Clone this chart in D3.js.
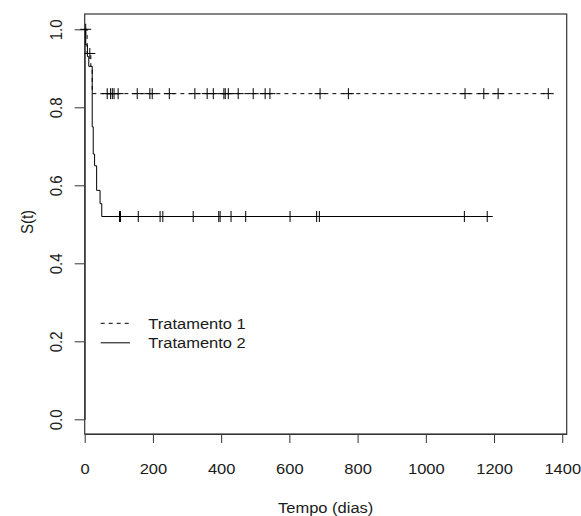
<!DOCTYPE html>
<html>
<head>
<meta charset="utf-8">
<script src="https://cdn.jsdelivr.net/npm/d3@7"></script>
<style>
  html, body { margin: 0; padding: 0; background: #fff; }
  svg text { font-family: "Liberation Sans", Arial, sans-serif; fill: #1a1a1a; }
</style>
</head>
<body>
<svg id="chart" width="581" height="516"></svg>
<script>
// ---- Data ----
// Tratamento 1 (dashed): step times and survival after each step
const trat1Times = [0, 7, 18, 22];
const trat1Surv  = [1, 0.938, 0.905, 0.835];
const trat1Censor = [3, 15, 66, 76, 81, 86, 98, 154, 191, 198, 248, 323, 359, 377,
                     408, 412, 421, 450, 494, 529, 543, 690, 773, 1115, 1170, 1212, 1359];
// Tratamento 2 (solid)
const trat2Times = [0, 3, 8, 12, 22, 25, 29, 35, 45, 50];
const trat2Surv  = [1, 0.96, 0.93, 0.905, 0.75, 0.68, 0.65, 0.587, 0.553, 0.52];
const trat2Censor = [102, 105, 157, 221, 229, 318, 393, 397, 429, 472, 602, 680, 688, 1113, 1180];

const xTicks = [0, 200, 400, 600, 800, 1000, 1200, 1400];
const yTicks = [0.0, 0.2, 0.4, 0.6, 0.8, 1.0];
const legendLabels = ["Tratamento 1", "Tratamento 2"];
const xTitle = "Tempo (dias)";
const yTitle = "S(t)";

// ---- Layout ----
const box = { left: 84.7, right: 566.7, top: 14, bottom: 434 };
const svg = d3.select("#chart");
const FS = "15px";
const SX = 1.1; // horizontal stretch of the original image's text

const x = d3.scaleLinear().domain([0, 1413]).range([box.left, box.right]);
const y = d3.scaleLinear().domain([0, 1]).range([419.3, 29.3]);

// Box
svg.append("rect")
  .attr("x", box.left).attr("y", box.top)
  .attr("width", box.right - box.left).attr("height", box.bottom - box.top)
  .attr("fill", "none").attr("stroke", "#333").attr("stroke-width", 1.2);

// X axis
const xAxis = svg.append("g")
  .attr("transform", `translate(0,${box.bottom})`)
  .call(d3.axisBottom(x).tickValues(xTicks).tickSize(9).tickSizeOuter(0).tickFormat(d3.format("d")));
xAxis.select(".domain").attr("stroke", "#333");
xAxis.selectAll(".tick line").attr("stroke", "#333");
xAxis.selectAll(".tick text")
  .attr("y", 0).attr("dy", 0)
  .attr("transform", `translate(0,40) scale(${SX},1)`)
  .style("font-size", FS);

// Y axis
const yAxis = svg.append("g")
  .attr("transform", `translate(${box.left},0)`)
  .call(d3.axisLeft(y).tickValues(yTicks).tickSize(10).tickSizeOuter(0).tickFormat(d3.format(".1f")));
yAxis.select(".domain").attr("stroke", "#333");
yAxis.selectAll(".tick line").attr("stroke", "#333");
yAxis.selectAll(".tick text")
  .attr("x", 0).attr("dy", 0)
  .attr("transform", `translate(-23,0) scale(${SX},1) rotate(-90)`)
  .attr("text-anchor", "middle")
  .style("font-size", FS);

svg.selectAll(".tick text, .domain").attr("font-family", null);

// Titles
svg.append("text")
  .attr("transform", `translate(${(box.left + box.right) / 2},513) scale(${SX},1)`)
  .attr("text-anchor", "middle").style("font-size", FS)
  .text(xTitle);
svg.append("text")
  .attr("transform", `translate(33,${(box.top + box.bottom) / 2 - 2}) scale(${SX},1) rotate(-90)`)
  .attr("text-anchor", "middle").style("font-size", FS)
  .text(yTitle);

// Curves
function stepPoints(times, surv, censor) {
  const pts = times.map((t, i) => [t, surv[i]]);
  const end = d3.max(censor);
  pts.push([end, surv[surv.length - 1]]);
  return pts;
}
function survAt(times, surv, t) {
  let s = 1;
  for (let i = 0; i < times.length; i++) if (times[i] <= t) s = surv[i];
  return s;
}
const line = d3.line().x(d => x(d[0])).y(d => y(d[1])).curve(d3.curveStepAfter);

const curves = [
  { times: trat1Times, surv: trat1Surv, censor: trat1Censor, dash: "4,4" },
  { times: trat2Times, surv: trat2Surv, censor: trat2Censor, dash: null }
];

curves.forEach(c => {
  svg.append("path")
    .datum(stepPoints(c.times, c.surv, c.censor))
    .attr("d", line)
    .attr("fill", "none").attr("stroke", "#000").attr("stroke-width", 1)
    .attr("stroke-dasharray", c.dash);
  const h = 5.5;
  const g = svg.append("g");
  g.selectAll("path.mark")
    .data(c.censor)
    .join("path")
    .attr("class", "mark")
    .attr("d", t => {
      const cx = x(t), cy = y(survAt(c.times, c.surv, t));
      return `M${cx - h},${cy}H${cx + h}M${cx},${cy - h}V${cy + h}`;
    })
    .attr("stroke", "#000").attr("stroke-width", 1).attr("fill", "none");
});

// Legend
const legY = [323.3, 342.8];
legendLabels.forEach((lab, i) => {
  svg.append("line")
    .attr("x1", 100.7).attr("x2", 130).attr("y1", legY[i]).attr("y2", legY[i])
    .attr("stroke", "#000").attr("stroke-width", 1)
    .attr("stroke-dasharray", i === 0 ? "4,4" : null);
  svg.append("text")
    .attr("transform", `translate(148.3,${legY[i] + 5.2}) scale(${SX},1)`)
    .style("font-size", FS)
    .text(lab);
});
</script>
</body>
</html>
